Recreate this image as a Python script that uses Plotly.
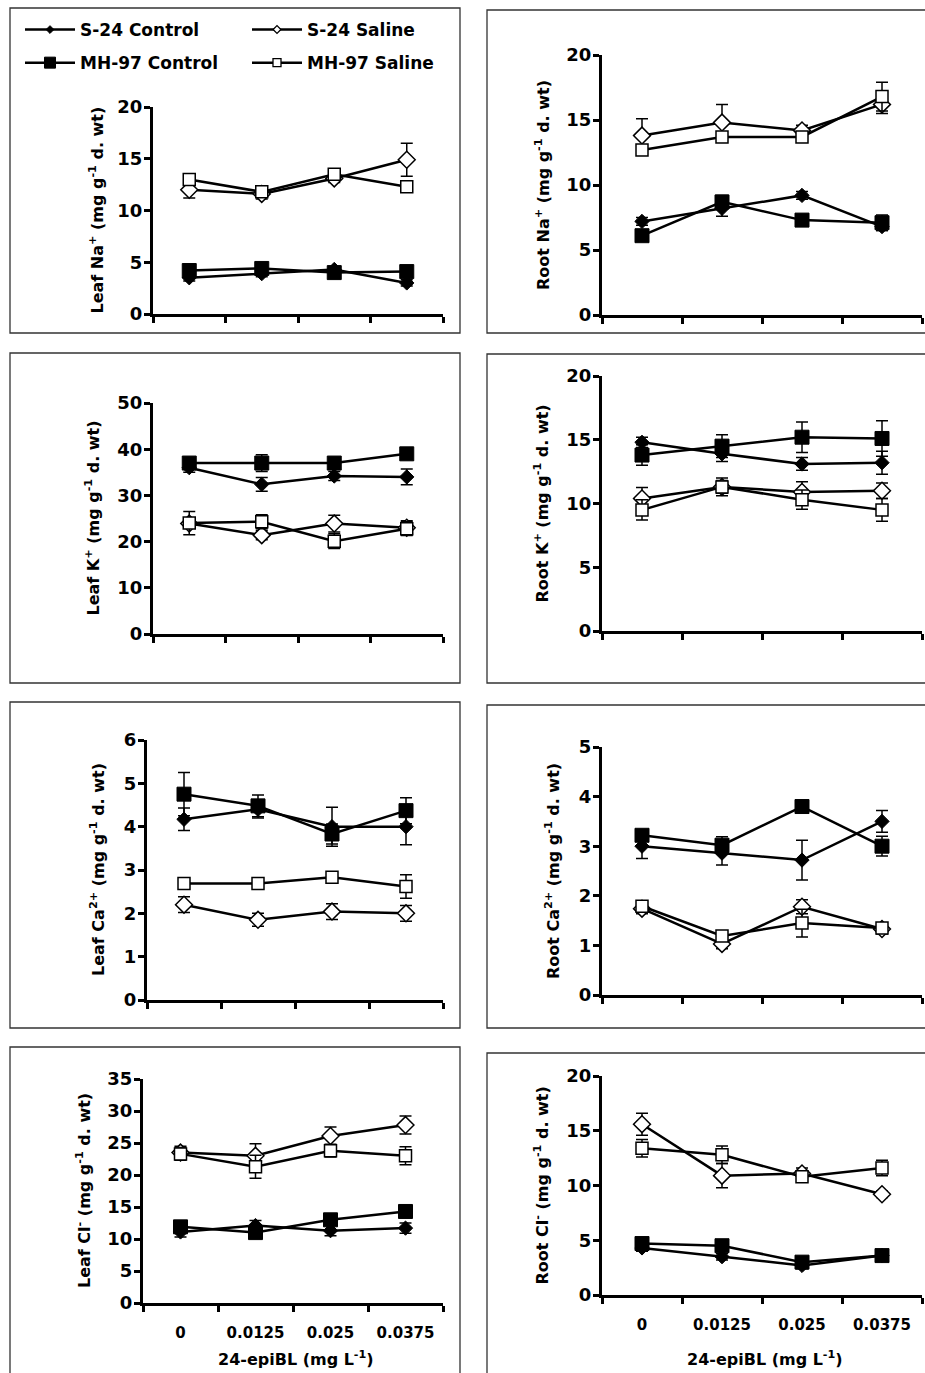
import plotly.graph_objects as go

W, H = 925, 1373

doses = ["0", "0.0125", "0.025", "0.0375"]
series_names = ["S-24 Control", "S-24 Saline", "MH-97 Control", "MH-97 Saline"]

# means per panel: rows = S-24 Control, S-24 Saline, MH-97 Control, MH-97 Saline
leaf_na = [[3.5, 3.9, 4.3, 3.0], [12.0, 11.6, 13.1, 14.9], [4.2, 4.4, 4.0, 4.1], [13.0, 11.8, 13.5, 12.3]]
leaf_na_err = [[0.3, 0.3, 0.3, 0.3], [0.8, 0.5, 0.4, 1.6], [0.3, 0.3, 0.3, 0.3], [0.4, 0.5, 0.4, 0.5]]

root_na = [[7.2, 8.2, 9.2, 6.8], [13.8, 14.8, 14.2, 16.2], [6.1, 8.7, 7.3, 7.1], [12.7, 13.7, 13.7, 16.8]]
root_na_err = [[0.3, 0.6, 0.3, 0.3], [1.3, 1.4, 0.4, 0.7], [0.3, 0.5, 0.3, 0.6], [0.4, 0.4, 0.4, 1.1]]

leaf_k = [[36.0, 32.4, 34.2, 34.0], [23.9, 21.4, 23.9, 23.0], [37.0, 37.0, 37.0, 39.0], [24.0, 24.3, 20.1, 22.8]]
leaf_k_err = [[1.0, 1.5, 1.0, 1.7], [1.0, 1.0, 1.8, 1.5], [1.0, 1.8, 1.0, 1.0], [2.5, 1.5, 1.6, 1.5]]

root_k = [[14.8, 13.9, 13.1, 13.2], [10.4, 11.3, 10.9, 11.0], [13.8, 14.5, 15.2, 15.1], [9.5, 11.3, 10.3, 9.5]]
root_k_err = [[0.4, 0.6, 0.5, 0.9], [0.85, 0.5, 0.8, 0.6], [0.8, 0.9, 1.2, 1.4], [0.8, 0.7, 0.75, 0.9]]

leaf_ca = [[4.17, 4.4, 4.0, 4.0], [2.2, 1.85, 2.04, 2.0], [4.75, 4.48, 3.83, 4.37], [2.69, 2.69, 2.83, 2.62]]
leaf_ca_err = [[0.26, 0.2, 0.45, 0.42], [0.18, 0.15, 0.18, 0.18], [0.5, 0.25, 0.23, 0.3], [0.1, 0.1, 0.12, 0.27]]

root_ca = [[3.0, 2.86, 2.72, 3.5], [1.74, 1.03, 1.78, 1.33], [3.22, 3.02, 3.8, 3.0], [1.79, 1.19, 1.45, 1.35]]
root_ca_err = [[0.25, 0.24, 0.4, 0.22], [0.1, 0.1, 0.14, 0.1], [0.1, 0.17, 0.1, 0.2], [0.1, 0.1, 0.28, 0.1]]

leaf_cl = [[11.1, 12.1, 11.3, 11.7], [23.5, 23.0, 26.1, 27.8], [11.9, 11.0, 13.0, 14.3], [23.3, 21.3, 23.8, 23.0]]
leaf_cl_err = [[0.8, 0.8, 0.8, 0.8], [1.0, 1.9, 1.4, 1.4], [0.8, 0.8, 0.8, 0.8], [1.0, 1.8, 1.0, 1.4]]

root_cl = [[4.3, 3.5, 2.7, 3.6], [15.6, 10.9, 11.1, 9.2], [4.7, 4.5, 3.0, 3.6], [13.4, 12.8, 10.8, 11.6]]
root_cl_err = [[0.3, 0.3, 0.3, 0.3], [1.0, 1.1, 0.5, 0.3], [0.3, 0.3, 0.3, 0.3], [0.8, 0.8, 0.5, 0.7]]

y_titles = [
    "Leaf Na<sup>+</sup> (mg g<sup>-1</sup> d. wt)",
    "Root Na<sup>+</sup> (mg g<sup>-1</sup> d. wt)",
    "Leaf K<sup>+</sup> (mg g<sup>-1</sup> d. wt)",
    "Root K<sup>+</sup> (mg g<sup>-1</sup> d. wt)",
    "Leaf Ca<sup>2+</sup> (mg g<sup>-1</sup> d. wt)",
    "Root Ca<sup>2+</sup> (mg g<sup>-1</sup> d. wt)",
    "Leaf Cl<sup>-</sup> (mg g<sup>-1</sup> d. wt)",
    "Root Cl<sup>-</sup> (mg g<sup>-1</sup> d. wt)",
]
y_max = [20, 20, 50, 20, 6, 5, 35, 20]
y_step = [5, 5, 10, 5, 1, 1, 5, 5]
x_title = "24-epiBL (mg L<sup>-1</sup>)"

panels = [
    (leaf_na, leaf_na_err), (root_na, root_na_err),
    (leaf_k, leaf_k_err), (root_k, root_k_err),
    (leaf_ca, leaf_ca_err), (root_ca, root_ca_err),
    (leaf_cl, leaf_cl_err), (root_cl, root_cl_err),
]

# layout geometry in pixels: axis x0, x1, y_top, y_bottom, title x
geom = [
    (153, 443, 107, 314, 97),
    (602, 922, 55, 315, 542),
    (153, 443, 403, 634, 93),
    (602, 922, 376, 631, 542),
    (147, 443, 740, 1000, 97),
    (602, 922, 747, 995, 552),
    (143, 443, 1079, 1303, 83),
    (602, 922, 1076, 1295, 542),
]
boxes = [
    (10, 460, 8, 333), (487, 935, 10, 333),
    (10, 460, 353, 683), (487, 935, 354, 683),
    (10, 460, 702, 1028), (487, 935, 705, 1028),
    (10, 460, 1047, 1380), (487, 935, 1053, 1380),
]

FONT = "DejaVu Sans"
styles = [
    dict(symbol="diamond", size=11, color="black", line=dict(color="black", width=1)),
    dict(symbol="diamond", size=13, color="white", line=dict(color="black", width=1.5)),
    dict(symbol="square", size=14, color="black", line=dict(color="black", width=1)),
    dict(symbol="square", size=12, color="white", line=dict(color="black", width=1.5)),
]
legend_styles = [
    dict(symbol="diamond", size=6, color="black", line=dict(color="black", width=1)),
    dict(symbol="diamond", size=6, color="white", line=dict(color="black", width=1.3)),
    dict(symbol="square", size=11, color="black", line=dict(color="black", width=1)),
    dict(symbol="square", size=8, color="white", line=dict(color="black", width=1.3)),
]

fig = go.Figure()
layout = dict(
    width=W, height=H, margin=dict(l=0, r=0, t=0, b=0, pad=0, autoexpand=False),
    autosize=False,
    paper_bgcolor="white", plot_bgcolor="white",
    font=dict(family=FONT, size=16, color="black", weight="bold"),
    showlegend=True,
)

def px_x(p):
    return p / W

def px_y(p):
    return 1 - p / H

annotations = []
shapes = []
for i, ((means, errs), (gx0, gx1, gyt, gyb, tx)) in enumerate(zip(panels, geom)):
    n = i + 1
    xa = "x" if n == 1 else f"x{n}"
    ya = "y" if n == 1 else f"y{n}"
    for s in range(4):
        fig.add_trace(go.Scatter(
            x=doses, y=means[s], xaxis=xa, yaxis=ya,
            mode="lines+markers", name=series_names[s], showlegend=False,
            line=dict(color="black", width=2.5),
            marker=styles[s],
            error_y=dict(type="data", array=errs[s], visible=True, color="black", thickness=1.5, width=6),
            cliponaxis=False,
        ))
    bottom = i >= 6
    layout[f"xaxis{'' if n == 1 else n}"] = dict(
        domain=[px_x(gx0), px_x(gx1)], anchor=ya, type="category", automargin=False,
        range=[-0.5, 3.5], tickson="boundaries", ticks="outside", ticklen=6, tickwidth=2.5,
        tickcolor="black", showline=True, linecolor="black", linewidth=3,
        showgrid=False, zeroline=False, showticklabels=bottom,
        tickfont=dict(size=15, family=FONT, weight="bold"), ticklabelstandoff=14,
        fixedrange=True,
    )
    layout[f"yaxis{'' if n == 1 else n}"] = dict(
        domain=[px_y(gyb), px_y(gyt)], anchor=xa, automargin=False,
        range=[0, y_max[i]], dtick=y_step[i], tick0=0, ticks="outside", ticklen=6, tickwidth=2.5,
        tickcolor="black", showline=True, linecolor="black", linewidth=3,
        showgrid=False, zeroline=False, ticklabelstandoff=-2,
        tickfont=dict(size=18, family=FONT, weight="bold"), fixedrange=True,
    )
    annotations.append(dict(
        text=y_titles[i], textangle=-90, xref="paper", yref="paper",
        x=px_x(tx), y=px_y((gyt + gyb) / 2), xanchor="center", yanchor="middle",
        showarrow=False, font=dict(size=16, family=FONT, weight="bold"),
    ))
    if bottom:
        annotations.append(dict(
            text=x_title, xref="paper", yref="paper",
            x=px_x((gx0 + gx1) / 2 + 3), y=px_y(1358), xanchor="center", yanchor="middle",
            showarrow=False, font=dict(size=16, family=FONT, weight="bold"),
        ))

for (bx0, bx1, by0, by1) in boxes:
    shapes.append(dict(type="rect", xref="paper", yref="paper",
                       x0=px_x(bx0), x1=px_x(bx1), y0=px_y(by1), y1=px_y(by0),
                       line=dict(color="#333333", width=1.3), fillcolor="rgba(0,0,0,0)", layer="below"))

# legend entries (two columns)
for s in range(4):
    fig.add_trace(go.Scatter(
        x=[None], y=[None], mode="lines+markers", name=series_names[s],
        line=dict(color="black", width=2.5), marker=legend_styles[s],
        legend="legend" if s in (0, 2) else "legend2", legendgroup=series_names[s],
        showlegend=True,
    ))

leg_common = dict(
    orientation="v", bgcolor="rgba(0,0,0,0)", borderwidth=0,
    font=dict(size=17, family=FONT, weight="bold"), tracegroupgap=8,
    xanchor="left", yanchor="top", itemwidth=50,
)
layout["legend"] = dict(leg_common, x=px_x(20), y=px_y(12))
layout["legend2"] = dict(leg_common, x=px_x(247), y=px_y(12))
layout["annotations"] = annotations
layout["shapes"] = shapes

fig.update_layout(**layout)
fig.write_html(
    "out.html",
    config={"displayModeBar": False, "responsive": False},
    post_script="document.body.style.margin='0';document.body.style.overflow='hidden';",
)
